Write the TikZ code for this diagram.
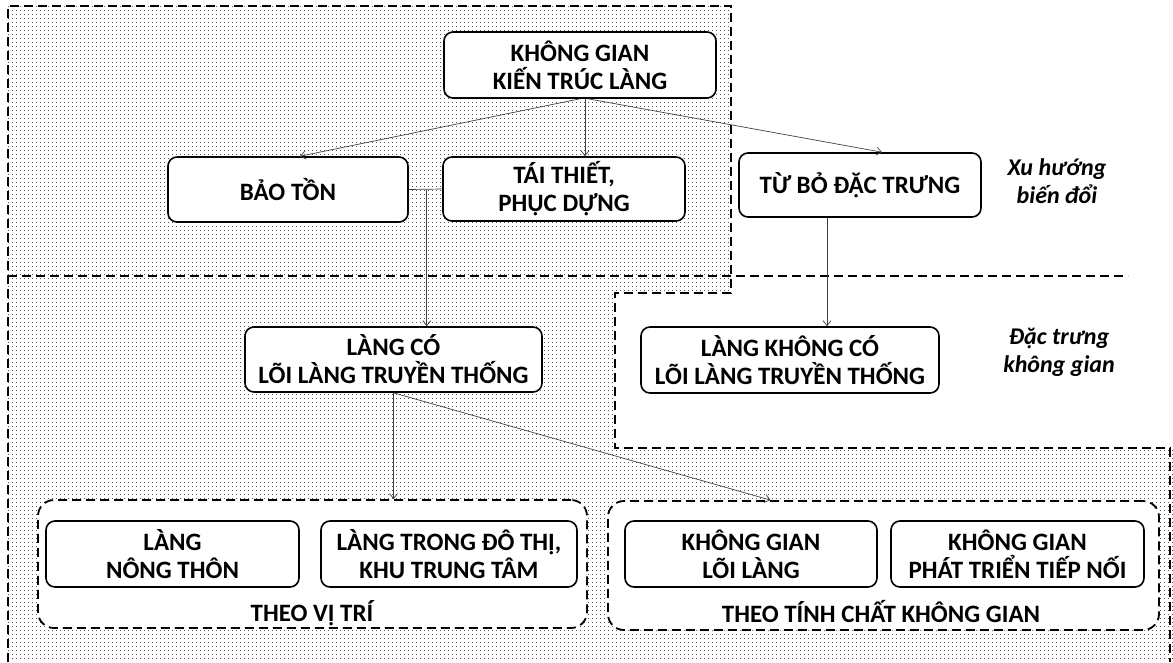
\documentclass[tikz,border=0pt]{standalone}
\usepackage{fontspec}
\setmainfont{Carlito}
\usetikzlibrary{arrows.meta,patterns.meta}
\tikzdeclarepattern{
  name=mydots,
  type=uncolored,
  bounding box={(0pt,0pt) and (4pt,4pt)},
  tile size={(4pt,4pt)},
  code={\pgfpathrectangle{\pgfpointorigin}{\pgfpoint{1.2pt}{1.2pt}}\pgfusepath{fill}}
}
\tikzset{
  box/.style={draw, line width=1.6pt, rounded corners=9pt, fill=white, align=center,
    font=\bfseries\fontsize{25}{28}\selectfont, inner sep=0pt},
  grp/.style={draw, dashed, dash pattern=on 9pt off 5pt, line width=1.8pt, rounded corners=16pt, fill=white, inner sep=0pt},
  grplabel/.style={font=\bfseries\fontsize{25}{28}\selectfont, inner sep=0pt},
  side/.style={font=\bfseries\itshape\fontsize{24}{28}\selectfont, align=center, inner sep=0pt},
  region/.style={dashed, dash pattern=on 9pt off 5pt, line width=1.8pt},
  conn/.style={draw=black!75, line width=0.7pt, -{Straight Barb[length=5pt,width=8pt]}},
  connplain/.style={draw=black!75, line width=0.7pt}
}
\begin{document}
\begin{tikzpicture}[x=1pt,y=-1pt]
\useasboundingbox (0,0) rectangle (1173,662);
% dotted background
\fill[pattern=mydots, pattern color=black!65] (8,6) -- (731,6) -- (731,293) -- (615,293) -- (615,448) -- (1173,448) -- (1173,662) -- (8,662) -- cycle;
\draw[region] (8,662) -- (8,6) -- (731,6) -- (731,293) -- (615,293) -- (615,448) -- (1170,448) -- (1170,662);
\draw[region] (8,276) -- (1128,276);

% top nodes
\node[box, minimum width=272, minimum height=66] (kg) at (580,65) {KHÔNG GIAN\\KIẾN TRÚC LÀNG};
\node[box, minimum width=240, minimum height=65] (bt) at (288,189.5) {BẢO TỒN};
\node[box, minimum width=242, minimum height=64] (tt) at (564,189) {TÁI THIẾT,\\PHỤC DỰNG};
\node[box, minimum width=242, minimum height=64] (tb) at (860,185) {TỪ BỎ ĐẶC TRƯNG};
\node[box, minimum width=297, minimum height=65] (lc) at (393.5,359.5) {LÀNG CÓ\\LÕI LÀNG TRUYỀN THỐNG};
\node[box, minimum width=298, minimum height=66] (lk) at (790,360) {LÀNG KHÔNG CÓ\\LÕI LÀNG TRUYỀN THỐNG};

\node[side] (xh) at (1057,181) {Xu hướng\\biến đổi};
\node[side] (dt) at (1059,352) {Đặc trưng\\không gian};

% groups
\node[grp, minimum width=549, minimum height=128] (vt) at (312.5,564) {};
\node[grp, minimum width=551, minimum height=129] (tc) at (883.5,565.5) {};
\node[grplabel] (vtl) at (312,613) {THEO VỊ TRÍ};
\node[grplabel] (tcl) at (881,612) {THEO TÍNH CHẤT KHÔNG GIAN};

\node[box, minimum width=253, minimum height=66] (ln) at (172.5,554) {LÀNG\\NÔNG THÔN};
\node[box, minimum width=256, minimum height=66] (ld) at (449,554) {LÀNG TRONG ĐÔ THỊ,\\KHU TRUNG TÂM};
\node[box, minimum width=252, minimum height=66] (kl) at (751,554) {KHÔNG GIAN\\LÕI LÀNG};
\node[box, minimum width=253, minimum height=66] (kp) at (1017.5,554) {KHÔNG GIAN\\PHÁT TRIỂN TIẾP NỐI};

% connectors
\draw[conn] (kg.south) -- ([xshift=12pt]bt.north);
\draw[conn] ([xshift=5pt]kg.south) -- ([xshift=5pt]kg.south |- tt.north);
\draw[conn] ([xshift=8pt]kg.south) -- ([xshift=22pt]tb.north);
\draw[connplain] (bt.east) -- (tt.west);
\coordinate (j) at ([xshift=18pt]bt.east);
\draw[conn] (j) -- (j |- lc.north);
\draw[conn] ([xshift=-33pt]tb.south) -- ([xshift=-33pt]tb.south |- lk.north);
\draw[conn] (lc.south) -- (lc.south |- vt.north);
\coordinate (tcin) at ([xshift=-113pt]tc.north);
\draw[conn] (lc.south) -- (tcin);
\end{tikzpicture}
\end{document}
